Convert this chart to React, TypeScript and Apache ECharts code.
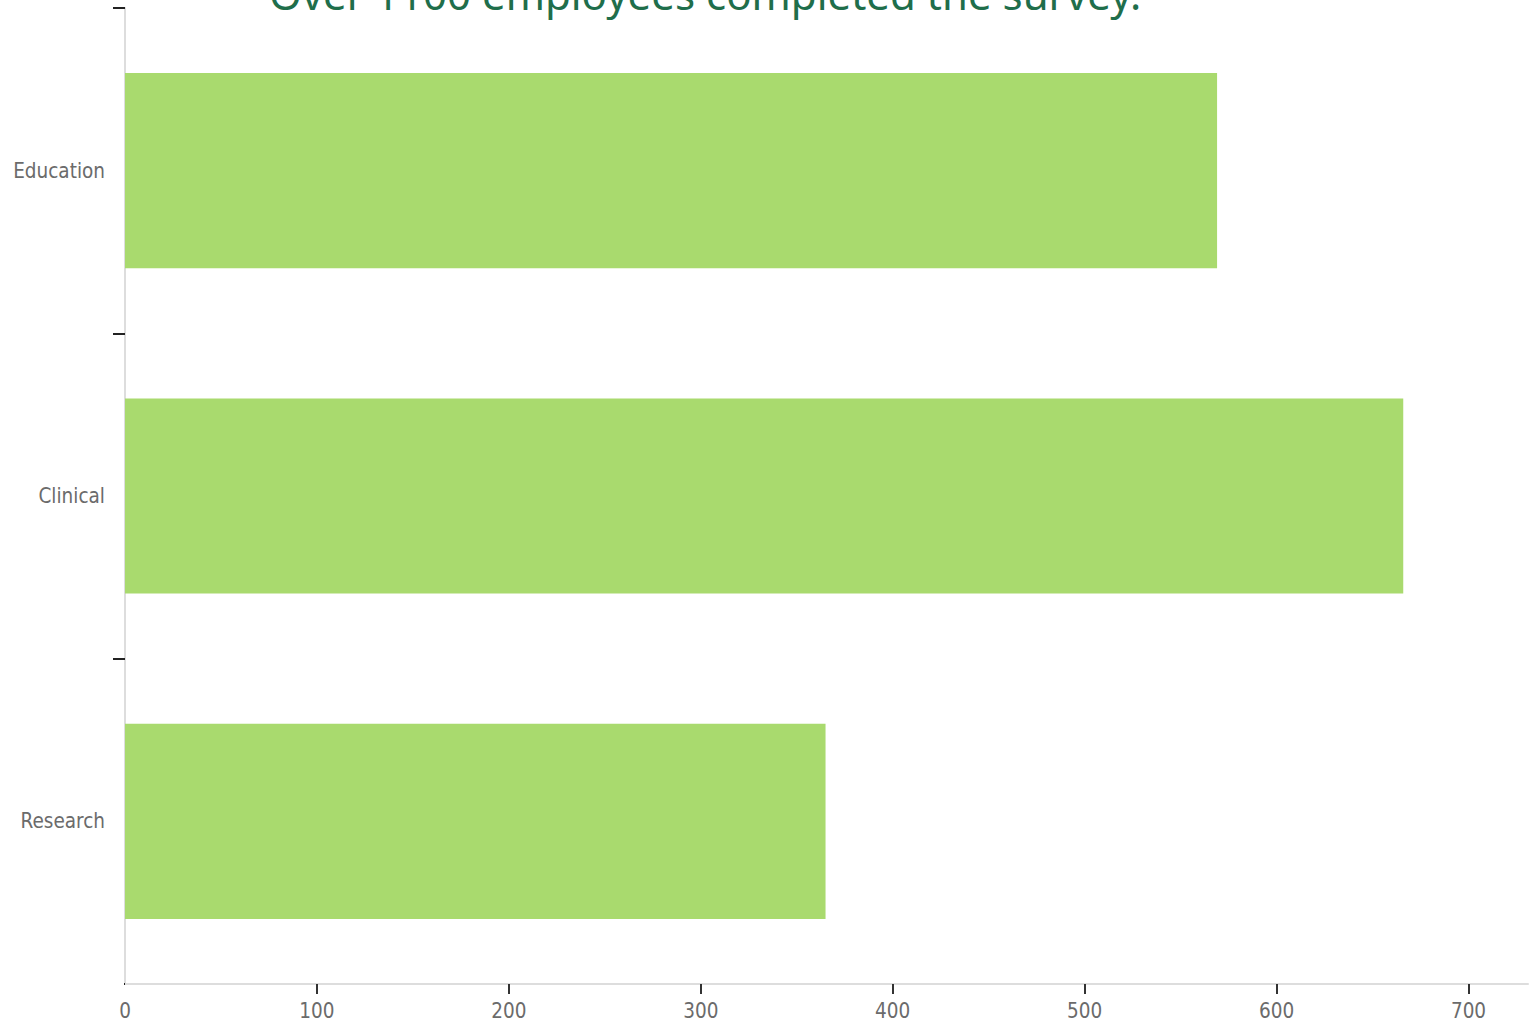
import React, { useEffect, useRef } from "react";
import * as echarts from "echarts";

const categories = ["Education", "Clinical", "Research"];
const counts = [569, 666, 365];
const xTicks = [0, 100, 200, 300, 400, 500, 600, 700];
const xTickMarks = [100, 200, 300, 400, 500, 600, 700];
const titleText = "Over 1100 employees completed the survey.";

const labelFont = "'Liberation Sans Narrow', 'DejaVu Sans Condensed', 'Liberation Sans', sans-serif";

export default function App() {
  const ref = useRef<HTMLDivElement>(null);
  useEffect(() => {
    if (!ref.current) return;
    const chart = echarts.init(ref.current, undefined, { renderer: "svg" });
    chart.setOption({
      animation: false,
      backgroundColor: "#ffffff",
      grid: { left: 125, right: 4, top: 8, bottom: 39, containLabel: false },
      graphic: [
        {
          type: "text",
          x: 705,
          y: 14,
          style: {
            text: titleText,
            fill: "#1f6e4b",
            font: "42px 'Noto Sans', 'Open Sans', sans-serif",
            align: "center",
            verticalAlign: "bottom",
          },
          z: 10,
        },
        {
          type: "rect",
          shape: { x: 108, y: 978, width: 16, height: 12 },
          style: { fill: "#ffffff" },
          z: 20,
        },
      ],
      xAxis: {
        type: "value",
        min: 0,
        max: 731,
        interval: 100,
        splitLine: { show: false },
        axisLine: { show: true, lineStyle: { color: "#dddddd", width: 2 } },
        axisTick: {
          show: true,
          length: 10,
          lineStyle: { color: "#333333", width: 2 },
          customValues: xTickMarks,
        },
        axisLabel: {
          color: "#6b6b6b",
          fontSize: 20.5,
          fontFamily: labelFont,
          margin: 16,
          customValues: xTicks,
        },
      },
      yAxis: {
        type: "category",
        data: categories,
        inverse: true,
        axisLine: { show: true, lineStyle: { color: "#dddddd", width: 2 } },
        axisTick: { show: true, length: 12, lineStyle: { color: "#222222", width: 2 } },
        axisLabel: {
          color: "#6b6b6b",
          fontSize: 20.5,
          fontFamily: labelFont,
          margin: 20,
        },
        splitLine: { show: false },
      },
      series: [
        {
          type: "bar",
          data: counts,
          barCategoryGap: "40%",
          itemStyle: { color: "#a9da6e" },
        },
      ],
    });
    return () => chart.dispose();
  }, []);
  return (
    <div
      ref={ref}
      style={{ position: "fixed", left: 0, top: 0, width: 1532, height: 1023, background: "#fff" }}
    />
  );
}
